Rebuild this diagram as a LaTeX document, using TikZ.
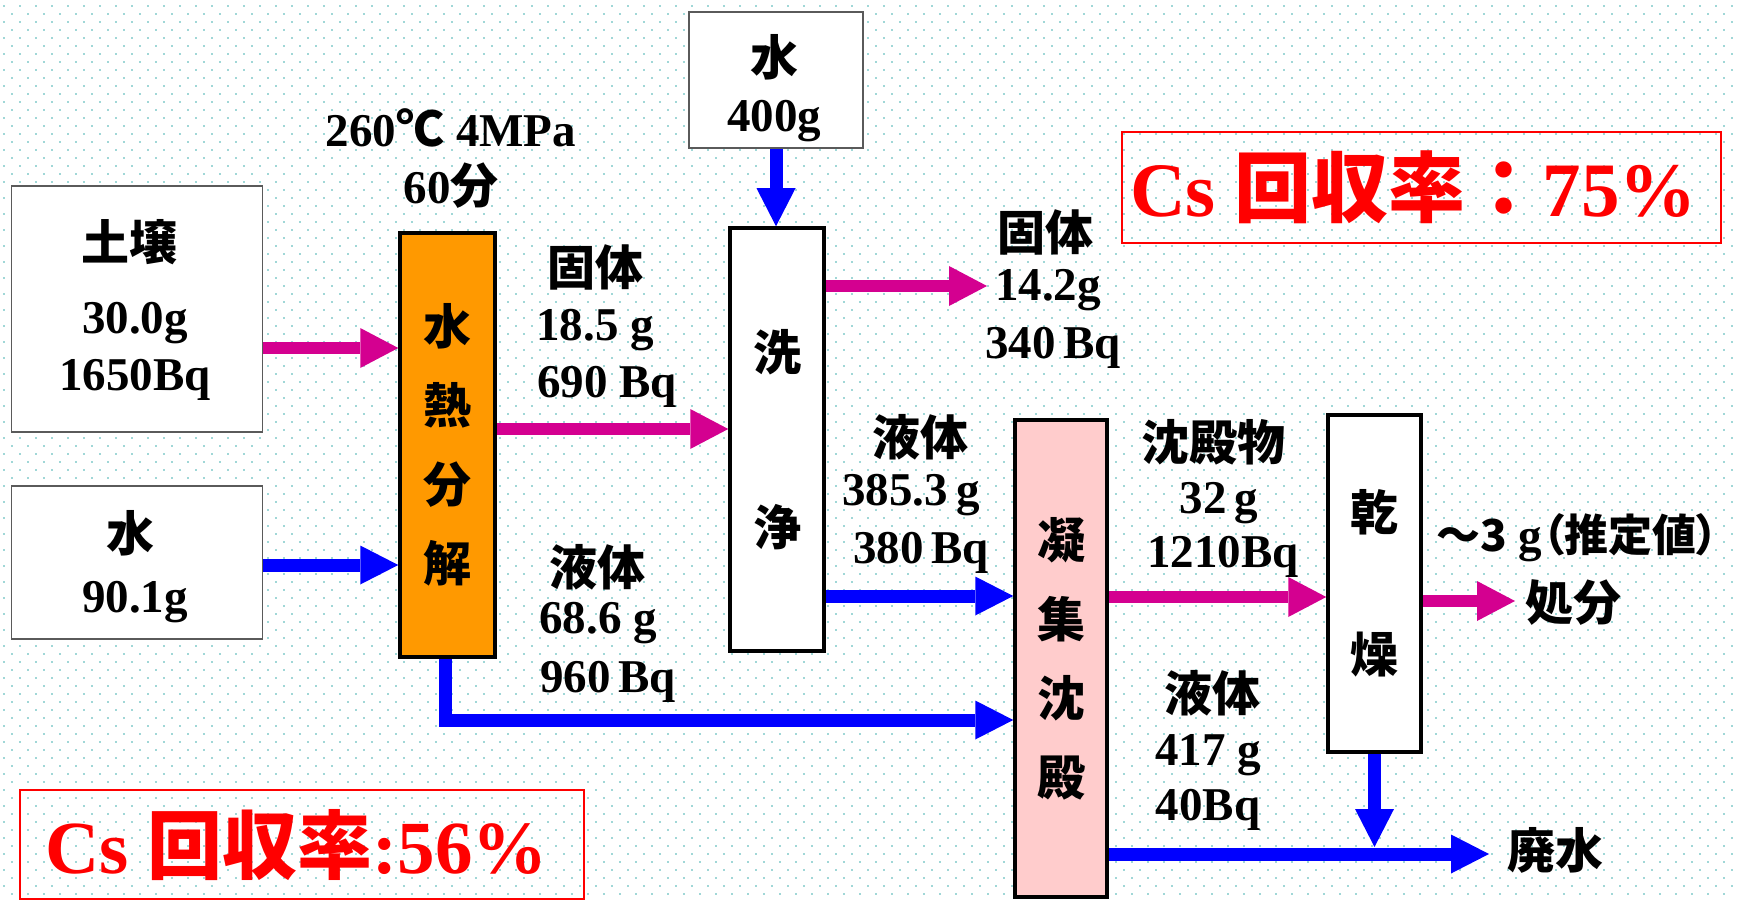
\documentclass[tikz,border=0pt]{standalone}
\usepackage{fontspec}
\setmainfont{Liberation Serif}
\newfontfamily\cjk{Noto Sans CJK JP}
\newfontfamily\cjkp{Noto Sans CJK JP}[RawFeature=+palt]
\usetikzlibrary{arrows.meta}
\definecolor{mag}{RGB}{212,0,144}
\definecolor{blu}{RGB}{0,0,255}
\definecolor{org}{RGB}{255,153,0}
\definecolor{pnk}{RGB}{255,204,204}
\definecolor{dotc}{RGB}{160,215,215}
\definecolor{boxgray}{RGB}{90,90,90}
\newcommand{\jp}[1]{{\cjk\bfseries\fontsize{48}{56}\selectfont #1}}
\newcommand{\jpp}[1]{{\cjkp\bfseries\fontsize{44}{56}\selectfont #1}}
\pgfdeclarelayer{bg}
\pgfsetlayers{bg,main}
\tikzset{
  inbox/.style={draw=boxgray, line width=1.5pt, fill=white, inner sep=0pt},
  procbox/.style={draw=black, line width=3.5pt, inner sep=0pt, align=center,
    font=\cjk\bfseries\fontsize{48}{#1}\selectfont},
  redbox/.style={draw=red, line width=1.8pt, inner sep=0pt},
  lbl/.style={anchor=base, inner sep=0pt, font=\bfseries\fontsize{47}{56}\selectfont},
  redlbl/.style={anchor=base, inner sep=0pt, text=red, font=\bfseries},
  marr/.style={draw=mag, line width=12pt, -{Triangle[length=38pt,width=40pt,line width=0pt]}},
  barr/.style={draw=blu, line width=13pt, -{Triangle[length=38pt,width=39pt,line width=0pt]}},
}
\begin{document}
\begin{tikzpicture}[x=1pt,y=-1pt]
\useasboundingbox (0,0) rectangle (1739,901);
\begin{pgfonlayer}{bg}
  \fill[white] (0,0) rectangle (1739,901);
  \foreach \j in {0,...,55} {
    \draw[dotc, line width=2pt, dash pattern=on 2pt off 14pt] (3,6+16*\j) -- (1739,6+16*\j);
    \draw[dotc, line width=2pt, dash pattern=on 2pt off 14pt] (11,14+16*\j) -- (1739,14+16*\j);
  }
\end{pgfonlayer}

% input boxes
\node[inbox, minimum width=251pt, minimum height=246pt] (soil) at (137,309) {};
\node[lbl] (soilname) at (129,261) {\jp{土壌}};
\node[lbl] (soilmass) at (135,333) {30.0g};
\node[lbl] (soilbq) at (135,390) {1650Bq};

\node[inbox, minimum width=251pt, minimum height=153pt] (water1) at (137,562.5) {};
\node[lbl] (w1name) at (130,551) {\jp{水}};
\node[lbl] (w1mass) at (135,612) {90.1g};

\node[inbox, minimum width=174pt, minimum height=136pt] (water2) at (776,80) {};
\node[lbl] (w2name) at (774,76) {\jp{水}};
\node[lbl] (w2mass) at (774,132) {400g};

% process boxes
\node[procbox=79, fill=org, minimum width=95pt, minimum height=424pt] (hydro) at (447.5,445) {水\\熱\\分\\解};
\node[procbox=175, fill=white, minimum width=94pt, minimum height=423pt] (wash) at (777,439.5) {洗\\浄};
\node[procbox=79, fill=pnk, minimum width=92pt, minimum height=477pt] (coag) at (1061,658.5) {凝\\集\\沈\\殿};
\node[procbox=142, fill=white, minimum width=93pt, minimum height=337pt] (dry) at (1374.5,583.5) {乾\\燥};

% condition label
\node[lbl] (cond1) at (451,147) {260\jp{℃} 4MPa};
\node[lbl] (cond2) at (451,204) {60\jp{分}};

% stream labels
\node[lbl] (sAname) at (595,285) {\jp{固体}};
\node[lbl] (sAmass) at (595,340) {18.5 g};
\node[lbl] (sAbq) at (607,397) {690 Bq};

\node[lbl] (lBname) at (597,585) {\jp{液体}};
\node[lbl] (lBmass) at (598,633) {68.6 g};
\node[lbl] (lBbq) at (608,692) {960\,Bq};

\node[lbl] (sCname) at (1045,251) {\jp{固体}};
\node[lbl] (sCmass) at (1048,300) {14.2g};
\node[lbl] (sCbq) at (1053,358) {340\,Bq};

\node[lbl] (lDname) at (920,455) {\jp{液体}};
\node[lbl] (lDmass) at (911,505) {385.3\,g};
\node[lbl] (lDbq) at (921,563) {380\,Bq};

\node[lbl] (pEname) at (1213,460) {\jp{沈殿物}};
\node[lbl] (pEmass) at (1219,513) {32\,g};
\node[lbl] (pEbq) at (1223,567) {1210Bq};

\node[lbl] (lFname) at (1212,711) {\jp{液体}};
\node[lbl] (lFmass) at (1208,765) {417 g};
\node[lbl] (lFbq) at (1208,820) {40Bq};

\node[lbl, anchor=base west] (est) at (1436,551) {\jpp{～3} g\jpp{（推定値）}};
\node[lbl] (disp) at (1573,620) {\jp{処分}};
\node[lbl] (waste) at (1555,868) {\jp{廃水}};

% recovery boxes
\node[redbox, minimum width=599pt, minimum height=111pt] (cs75) at (1421.5,187.5) {};
\node[redlbl] (cs75t) at (1413.5,217) {\fontsize{77}{80}\selectfont Cs {\cjk\bfseries 回収率：}75\%};
\node[redbox, minimum width=564pt, minimum height=109pt] (cs56) at (302,844.5) {};
\node[redlbl] (cs56t) at (296.5,873) {\fontsize{75}{80}\selectfont Cs {\cjk\bfseries 回収率}:56\%};

% free ends
\coordinate (solidout) at (987,286);
\coordinate (dispend) at (1515,601);
\coordinate (wasteend) at (1489,854);
\coordinate (joinpt) at (1374.5,847);

\begin{pgfonlayer}{bg}
  \draw[marr] ([yshift=-39pt]soil.east) coordinate (a1s) -- (a1s -| hydro.west);
  \draw[barr] ([yshift=-2.5pt]water1.east) coordinate (a2s) -- (a2s -| hydro.west);
  \draw[marr] ([yshift=16pt]hydro.east) coordinate (a3s) -- (a3s -| wash.west);
  \draw[barr, line join=miter] ([xshift=-2.5pt]hydro.south) |- ([yshift=-61.5pt]coag.west);
  \draw[barr] (water2.south) -- (water2.south |- wash.north);
  \draw[marr] (wash.east |- solidout) -- (solidout);
  \draw[barr] ([yshift=-156.5pt]wash.east) coordinate (a7s) -- (a7s -| coag.west);
  \draw[marr] ([yshift=61.5pt]coag.east) coordinate (a8s) -- (a8s -| dry.west);
  \draw[marr] (dry.east |- dispend) -- (dispend);
  \draw[barr] (coag.east |- wasteend) -- (wasteend);
  \draw[barr] (dry.south) -- (joinpt);
\end{pgfonlayer}
\end{tikzpicture}
\end{document}
